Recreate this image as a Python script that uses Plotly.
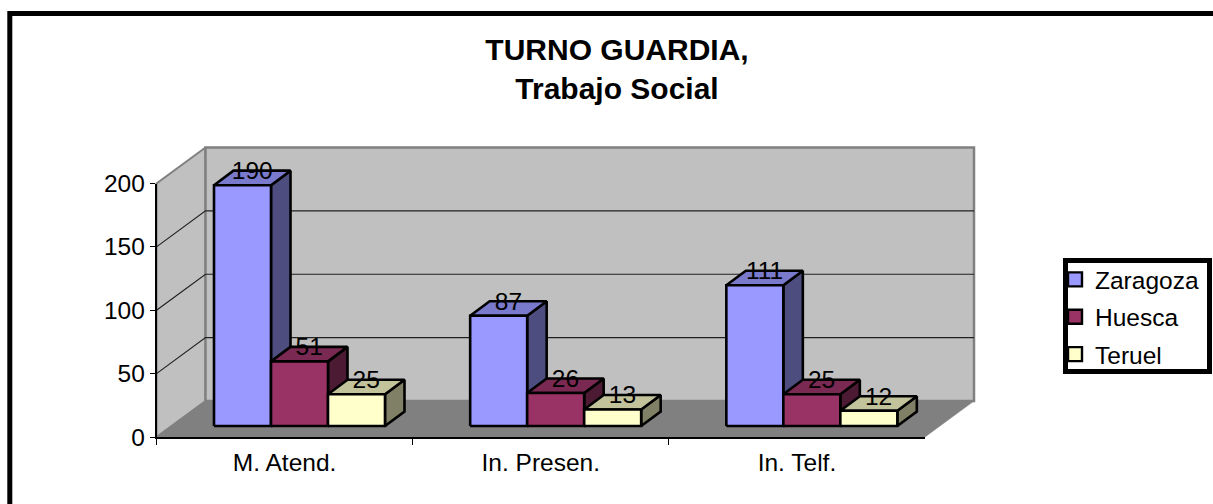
import plotly.graph_objects as go

# ---- data
categories = ["M. Atend.", "In. Presen.", "In. Telf."]
zaragoza = [190, 87, 111]
huesca = [51, 26, 25]
teruel = [25, 13, 12]
series_names = ["Zaragoza", "Huesca", "Teruel"]
y_ticks = [0, 50, 100, 150, 200]
title_text = "<b>TURNO GUARDIA,<br>Trabajo Social</b>"

series_values = [zaragoza, huesca, teruel]
face_colors = [
    ("#9999FF", "#4D4D80", "#7A7ACC"),
    ("#993366", "#4D1A33", "#7A2952"),
    ("#FFFFCC", "#808066", "#C2C29B"),
]

# ---- geometry of the pseudo-3D box (page pixels -> axis units)
W, H = 1213, 504
AX_L, AX_R, AX_B, AX_T = 156.5, 925.0, 437.0, 183.5
PX_CAT = (AX_R - AX_L) / 3
PX_VAL = (AX_B - AX_T) / 200
WALL_DX, WALL_DY = 49 / PX_CAT, 36 / PX_VAL
BAR_DX, BAR_DY = 19.5 / PX_CAT, 14.5 / PX_VAL
BASE_Y = 11 / PX_VAL
BAR_W = 57 / PX_CAT
GROUP_START = 57.5 / PX_CAT - 0.5
LABEL_LIFT = 5 / PX_VAL
FONT = "Liberation Sans, Arial, sans-serif"
LBL = 24.5

fig = go.Figure()


def poly(xs, ys, fill, line="black", width=2.6, mode="lines"):
    fig.add_trace(go.Scatter(
        x=xs + xs[:1], y=ys + ys[:1], mode=mode, fill="toself", fillcolor=fill,
        line=dict(color=line, width=width), hoverinfo="skip", showlegend=False,
        xaxis="x", yaxis="y"))


X0, X1 = -0.5, 2.5
TOP = y_ticks[-1]
# side wall, back wall, floor
poly([X0, X0 + WALL_DX, X0 + WALL_DX, X0], [0, WALL_DY, TOP + WALL_DY, TOP], "#C0C0C0", "#808080", 2)
poly([X0 + WALL_DX, X1 + WALL_DX, X1 + WALL_DX, X0 + WALL_DX],
     [WALL_DY, WALL_DY, TOP + WALL_DY, TOP + WALL_DY], "#C0C0C0", "#808080", 2.5)
poly([X0, X1, X1 + WALL_DX, X0 + WALL_DX], [0, 0, WALL_DY, WALL_DY], "#808080", "#808080", 0.5)
# grid lines
for v in y_ticks[1:-1]:
    fig.add_trace(go.Scatter(
        x=[X0, X0 + WALL_DX, X1 + WALL_DX], y=[v, v + WALL_DY, v + WALL_DY], mode="lines",
        line=dict(color="#202020", width=1.2), hoverinfo="skip", showlegend=False))

# bars: front, top and side faces
lab_x, lab_y, lab_t = [], [], []
for c in range(len(categories)):
    for s, values in enumerate(series_values):
        front, side, top = face_colors[s]
        v = values[c]
        x = c + GROUP_START + s * BAR_W
        b, t = BASE_Y, BASE_Y + v
        poly([x + BAR_W, x + BAR_W + BAR_DX, x + BAR_W + BAR_DX, x + BAR_W], [b, b + BAR_DY, t + BAR_DY, t], side)
        poly([x, x + BAR_DX, x + BAR_W + BAR_DX, x + BAR_W], [t, t + BAR_DY, t + BAR_DY, t], top)
        poly([x, x + BAR_W, x + BAR_W, x], [b, b, t, t], front)
        lab_x.append(x + (BAR_W + BAR_DX) / 2)
        lab_y.append(t + BAR_DY / 2 + LABEL_LIFT)
        lab_t.append(str(v))

fig.add_trace(go.Scatter(x=lab_x, y=lab_y, text=lab_t, mode="text", textposition="middle center",
                         textfont=dict(family=FONT, size=LBL, color="black"),
                         hoverinfo="skip", showlegend=False, cliponaxis=False))

# carrier of the visible axes and the legend
for s, name in enumerate(series_names):
    fig.add_trace(go.Scatter(
        x=[categories[0]], y=[None], name=name, mode="markers", xaxis="x2", yaxis="y2",
        legendgroup=name,
        marker=dict(symbol="square", size=14, color=face_colors[s][0], line=dict(color="black", width=2.4))))

fig.update_layout(
    width=W, height=H, margin=dict(l=0, r=0, t=0, b=0, autoexpand=False), autosize=False,
    paper_bgcolor="white", plot_bgcolor="rgba(0,0,0,0)",
    font=dict(family=FONT, size=LBL, color="black"),
    xaxis=dict(domain=[0, 1], range=[X0 - AX_L / PX_CAT, X0 + (W - AX_L) / PX_CAT], visible=False, fixedrange=True),
    yaxis=dict(domain=[0, 1], range=[-(H - AX_B) / PX_VAL, AX_B / PX_VAL], visible=False, fixedrange=True),
    xaxis2=dict(domain=[AX_L / W, AX_R / W], type="category", categoryorder="array", categoryarray=categories,
                range=[-0.5, 2.5], anchor="y2", tickson="boundaries", ticks="outside", ticklen=6, tickwidth=1,
                tickcolor="black", showline=True, linecolor="black", linewidth=1.5, showgrid=False,
                ticklabelstandoff=3, tickfont=dict(family=FONT, size=LBL), fixedrange=True),
    yaxis2=dict(domain=[(H - AX_B) / H, (H - AX_T) / H], range=[0, 200], anchor="x2", tickvals=y_ticks,
                ticks="outside", ticklen=5, tickwidth=1, tickcolor="black", showline=True, linecolor="black",
                linewidth=1.5, showgrid=False, zeroline=False, tickfont=dict(family=FONT, size=LBL), fixedrange=True),
    title=dict(text=title_text, x=617 / W, xanchor="center", y=1 - 60 / H, yanchor="top",
               font=dict(family=FONT, size=30, color="black")),
    legend=dict(x=1055 / W, xanchor="left", y=1 - 257 / H, yanchor="top", bgcolor="rgba(0,0,0,0)",
                borderwidth=0, tracegroupgap=2.5, font=dict(family=FONT, size=LBL),
                entrywidth=112, entrywidthmode="pixels", itemclick=False, itemdoubleclick=False),
    shapes=[dict(type="rect", xref="paper", yref="paper", x0=9.8 / W, x1=1.05, y0=-0.05, y1=1 - 13.4 / H,
                 line=dict(color="black", width=5), fillcolor="rgba(0,0,0,0)", layer="above"),
            dict(type="rect", xref="paper", yref="paper", x0=1065.5 / W, x1=1209.5 / W, y0=1 - 371.5 / H, y1=1 - 260.5 / H,
                 line=dict(color="black", width=5), fillcolor="white", layer="above")],
)

fig.write_html("out.html", config=dict(displayModeBar=False),
               post_script="document.body.style.margin='0';document.body.style.overflow='hidden';")
